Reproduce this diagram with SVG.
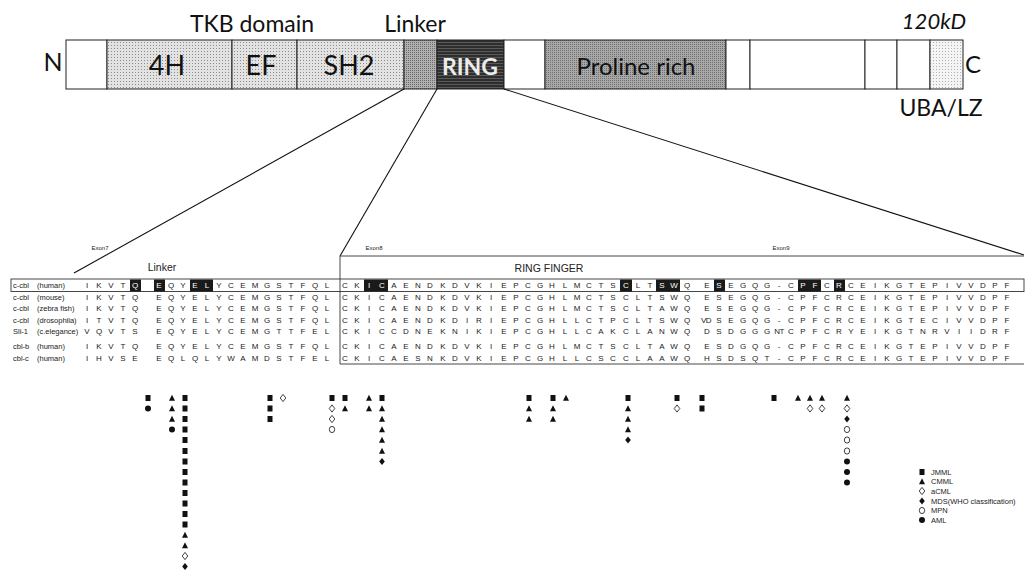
<svg xmlns="http://www.w3.org/2000/svg" xmlns:xlink="http://www.w3.org/1999/xlink" width="1026" height="572" viewBox="0 0 1026 572">
  <style>
    .big { font-family: Lato, "Open Sans", "Liberation Sans", sans-serif; fill: #111; }
    .seg { stroke: #222; stroke-width: 1; }
    .aa { font-family: "Liberation Sans", Arial, sans-serif; font-size: 8px; fill: #222; text-anchor: middle; }
    .lbl { font-family: "Liberation Sans", Arial, sans-serif; font-size: 7.5px; fill: #222; }
    .small { font-family: "Liberation Sans", Arial, sans-serif; fill: #222; }
    .w { fill: #fff; }
    .box { fill: #1a1a1a; }
    .ln { stroke: #111; stroke-width: 1.1; fill: none; }
    .frame { stroke: #333; stroke-width: 0.9; fill: none; }
  </style>
  <defs>
    <pattern id="pLight" width="3" height="3" patternUnits="userSpaceOnUse">
      <rect width="3" height="3" fill="#e2e2e2"/><rect width="1" height="1" fill="#8c8c8c"/>
    </pattern>
    <pattern id="pLinker" width="2" height="2" patternUnits="userSpaceOnUse">
      <rect width="2" height="2" fill="#b0b0b0"/><rect width="1" height="1" fill="#6a6a6a"/>
    </pattern>
    <pattern id="pRing" width="3" height="3" patternUnits="userSpaceOnUse">
      <rect width="3" height="3" fill="#2e2e2e"/><rect width="3" height="1" fill="#5a5a5a"/>
    </pattern>
    <pattern id="pPro" width="2" height="2" patternUnits="userSpaceOnUse">
      <rect width="2" height="2" fill="#a8a8a8"/><rect width="1" height="1" fill="#707070"/>
    </pattern>
    <pattern id="pUba" width="3" height="3" patternUnits="userSpaceOnUse">
      <rect width="3" height="3" fill="#f4f4f4"/><rect width="1" height="1" fill="#b0b0b0"/>
    </pattern>
    <!-- mutation markers, centred on the origin -->
    <rect id="sq" x="-2.5" y="-3" width="5" height="6" fill="#111"/>
    <polygon id="tri" points="0,-3.3 3,2.8 -3,2.8" fill="#111"/>
    <polygon id="od" points="0,-3.6 2.8,0 0,3.6 -2.8,0" fill="#fff" stroke="#111" stroke-width="0.8"/>
    <polygon id="fd" points="0,-3.6 2.8,0 0,3.6 -2.8,0" fill="#111"/>
    <ellipse id="oc" rx="2.7" ry="3.1" fill="#fff" stroke="#111" stroke-width="0.8"/>
    <circle id="fc" r="3" fill="#111"/>
  </defs>

  <rect width="1026" height="572" fill="#fff"/>

  <!-- protein domain bar -->
  <g id="domain-bar">
    <rect class="seg" x="66" y="40" width="41" height="49" fill="#fff"/>
    <rect class="seg" x="107" y="40" width="125" height="49" fill="url(#pLight)"/>
    <rect class="seg" x="232" y="40" width="65" height="49" fill="url(#pLight)"/>
    <rect class="seg" x="297" y="40" width="107" height="49" fill="url(#pLight)"/>
    <rect class="seg" x="404" y="40" width="33" height="49" fill="url(#pLinker)"/>
    <rect class="seg" x="437" y="40" width="67" height="49" fill="url(#pRing)"/>
    <rect class="seg" x="504" y="40" width="41" height="49" fill="#fff"/>
    <rect class="seg" x="545" y="40" width="181" height="49" fill="url(#pPro)"/>
    <rect class="seg" x="726" y="40" width="24" height="49" fill="#fff"/>
    <rect class="seg" x="750" y="40" width="115" height="49" fill="#fff"/>
    <rect class="seg" x="865" y="40" width="32" height="49" fill="#fff"/>
    <rect class="seg" x="897" y="40" width="33" height="49" fill="#fff"/>
    <rect class="seg" x="930" y="40" width="33" height="49" fill="url(#pUba)"/>
    <text class="big" x="167" y="75" font-size="27" text-anchor="middle">4H</text>
    <text class="big" x="261" y="75" font-size="27" text-anchor="middle">EF</text>
    <text class="big" x="349" y="75" font-size="27" text-anchor="middle">SH2</text>
    <text class="big" x="470" y="75" font-size="23" font-weight="bold" text-anchor="middle" fill="#ececec" style="fill:#ececec">RING</text>
    <text class="big" x="636" y="75" font-size="24" text-anchor="middle">Proline rich</text>
  </g>

  <g id="bar-labels">
    <text class="big" x="53" y="71" font-size="25" text-anchor="middle">N</text>
    <text class="big" x="973" y="73" font-size="24" text-anchor="middle">C</text>
    <text class="big" x="252" y="32" font-size="23" text-anchor="middle">TKB domain</text>
    <text class="big" x="415" y="32" font-size="23" text-anchor="middle">Linker</text>
    <text class="big" x="934" y="29" font-size="22" font-style="italic" text-anchor="middle">120kD</text>
    <text class="big" x="941" y="116" font-size="23" text-anchor="middle">UBA/LZ</text>
  </g>

  <!-- zoom lines from the bar down to the alignment -->
  <g id="connectors">
    <line class="ln" x1="404" y1="89" x2="74" y2="273"/>
    <line class="ln" x1="437" y1="89" x2="340" y2="256"/>
    <line class="ln" x1="504" y1="89" x2="1024" y2="255"/>
  </g>

  <!-- alignment frames and headings -->
  <g id="alignment-frame">
    <polyline class="frame" points="1024,256 340,256 340,364 1024,364"/>
    <rect class="frame" x="11" y="279" width="1013" height="12.5"/>
    <text class="small" x="100" y="250" font-size="6" text-anchor="middle">Exon7</text>
    <text class="small" x="374" y="250" font-size="6" text-anchor="middle">Exon8</text>
    <text class="small" x="781" y="250" font-size="6" text-anchor="middle">Exon9</text>
    <text class="small" x="162" y="271" font-size="10.5" text-anchor="middle">Linker</text>
    <text class="small" x="549" y="272" font-size="10.5" text-anchor="middle">RING FINGER</text>
  </g>

  <!-- highlighted residues in the human c-cbl row -->
  <g id="highlights">
    <rect class="box" x="130" y="279.5" width="11" height="12"/>
    <rect class="box" x="154" y="279.5" width="11" height="12"/>
    <rect class="box" x="190" y="279.5" width="23" height="12"/>
    <rect class="box" x="364" y="279.5" width="24" height="12"/>
    <rect class="box" x="620" y="279.5" width="12" height="12"/>
    <rect class="box" x="656" y="279.5" width="24" height="12"/>
    <rect class="box" x="714" y="279.5" width="11" height="12"/>
    <rect class="box" x="798" y="279.5" width="23" height="12"/>
    <rect class="box" x="834" y="279.5" width="11" height="12"/>
  </g>

  <!-- species labels -->
  <g id="species">
    <text class="lbl" x="13" y="288">c-cbl</text><text class="lbl" x="37" y="288">(human)</text>
    <text class="lbl" x="13" y="299.5">c-cbl</text><text class="lbl" x="37" y="299.5">(mouse)</text>
    <text class="lbl" x="13" y="311">c-cbl</text><text class="lbl" x="37" y="311">(zebra fish)</text>
    <text class="lbl" x="13" y="322.5">c-cbl</text><text class="lbl" x="37" y="322.5">(drosophila)</text>
    <text class="lbl" x="13" y="334">Sli-1</text><text class="lbl" x="37" y="334">(c.elegance)</text>
    <text class="lbl" x="13" y="349">cbl-b</text><text class="lbl" x="37" y="349">(human)</text>
    <text class="lbl" x="13" y="360.5">cbl-c</text><text class="lbl" x="37" y="360.5">(human)</text>
  </g>

  <!-- sequence rows -->
  <g id="sequences">
    <text class="aa" y="288" x="87 99 111 123 135 159 171 183 195 207 219 231 243 255 267 279 291 303 315 327 345 357 369 382 394 406 418 430 443 455 467 479 491 504 516 528 540 552 565 577 589 601 613 626 638 650 662 674 687 707 719 731 743 755 767 779 791 803 815 827 839 851 863 875 887 899 911 923 935 947 959 971 983 995 1007">IKVT<tspan class="w">Q</tspan><tspan class="w">E</tspan>QY<tspan class="w">EL</tspan>YCEMGSTFQLCK<tspan class="w">IC</tspan>AENDKDVKIEPCGHLMCTS<tspan class="w">C</tspan>LT<tspan class="w">SW</tspan>QE<tspan class="w">S</tspan>EGQG-C<tspan class="w">PF</tspan>C<tspan class="w">R</tspan>CEIKGTEPIVVDPF</text>
    <text class="aa" y="299.5" x="87 99 111 123 135 159 171 183 195 207 219 231 243 255 267 279 291 303 315 327 345 357 369 382 394 406 418 430 443 455 467 479 491 504 516 528 540 552 565 577 589 601 613 626 638 650 662 674 687 707 719 731 743 755 767 779 791 803 815 827 839 851 863 875 887 899 911 923 935 947 959 971 983 995 1007">IKVTQEQYELYCEMGSTFQLCKICAENDKDVKIEPCGHLMCTSCLTSWQESEGQG-CPFCRCEIKGTEPIVVDPF</text>
    <text class="aa" y="311" x="87 99 111 123 135 159 171 183 195 207 219 231 243 255 267 279 291 303 315 327 345 357 369 382 394 406 418 430 443 455 467 479 491 504 516 528 540 552 565 577 589 601 613 626 638 650 662 674 687 707 719 731 743 755 767 779 791 803 815 827 839 851 863 875 887 899 911 923 935 947 959 971 983 995 1007">IKVTQEQYELYCEMGSTFQLCKICAENDKDVKIEPCGHLMCTSCLTAWQESEGQG-CPFCRCEIKGTEPIVVDPF</text>
    <text class="aa" y="322.5" x="87 99 111 123 135 159 171 183 195 207 219 231 243 255 267 279 291 303 315 327 345 357 369 382 394 406 418 430 443 455 467 479 491 504 516 528 540 552 565 577 589 601 613 626 638 650 662 674 687">ITVTQEQYELYCEMGSTFQLCKICAENDKDIRIEPCGHLLCTPCLTSWQ</text>
    <text class="aa" y="322.5" x="706" font-size="7" letter-spacing="-0.6">VD</text>
    <text class="aa" y="322.5" x="719 731 743 755 767 779 791 803 815 827 839 851 863 875 887 899 911 923 935 947 959 971 983 995 1007">SEGQG-CPFCRCEIKGTECIVVDPF</text>
    <text class="aa" y="334" x="87 99 111 123 135 159 171 183 195 207 219 231 243 255 267 279 291 303 315 327 345 357 369 382 394 406 418 430 443 455 467 479 491 504 516 528 540 552 565 577 589 601 613 626 638 650 662 674 687 707 719 731 743 755 767">VQVTSEQYELYCEMGTTFELCKICCDNEKNIKIEPCGHLLCAKCLANWQDSDGGG</text>
    <text class="aa" y="334" x="779" font-size="7" letter-spacing="-0.6">NT</text>
    <text class="aa" y="334" x="791 803 815 827 839 851 863 875 887 899 911 923 935 947 959 971 983 995 1007">CPFCRYEIKGTNRVIIDRF</text>
    <text class="aa" y="349" x="87 99 111 123 135 159 171 183 195 207 219 231 243 255 267 279 291 303 315 327 345 357 369 382 394 406 418 430 443 455 467 479 491 504 516 528 540 552 565 577 589 601 613 626 638 650 662 674 687 707 719 731 743 755 767 779 791 803 815 827 839 851 863 875 887 899 911 923 935 947 959 971 983 995 1007">IKVTQEQYELYCEMGSTFQLCKICAENDKDVKIEPCGHLMCTSCLTAWQESDGQG-CPFCRCEIKGTEPIVVDPF</text>
    <text class="aa" y="360.5" x="87 99 111 123 135 159 171 183 195 207 219 231 243 255 267 279 291 303 315 327 345 357 369 382 394 406 418 430 443 455 467 479 491 504 516 528 540 552 565 577 589 601 613 626 638 650 662 674 687 707 719 731 743 755 767 779 791 803 815 827 839 851 863 875 887 899 911 923 935 947 959 971 983 995 1007">IHVSEEQLQLYWAMDSTFELCKICAESNKDVKIEPCGHLLCSCCLAAWQHSDSQT-CPFCRCEIKGTEPIVVDPF</text>
  </g>

  <!-- mutation markers under the residues -->
  <g id="mutations">
    <use href="#sq" x="148" y="398"/><use href="#fc" x="148" y="408.5"/>

    <use href="#tri" x="172" y="398"/><use href="#tri" x="172" y="408.5"/><use href="#tri" x="172" y="419"/><use href="#fc" x="172" y="429.5"/>

    <use href="#sq" x="185" y="398"/><use href="#sq" x="185" y="408.5"/><use href="#sq" x="185" y="419"/><use href="#sq" x="185" y="429.5"/>
    <use href="#sq" x="185" y="440"/><use href="#sq" x="185" y="451"/><use href="#sq" x="185" y="461.5"/><use href="#sq" x="185" y="472"/>
    <use href="#sq" x="185" y="482.5"/><use href="#sq" x="185" y="493"/><use href="#sq" x="185" y="503.5"/><use href="#sq" x="185" y="514"/>
    <use href="#sq" x="185" y="524.5"/><use href="#tri" x="185" y="535"/><use href="#tri" x="185" y="545.5"/><use href="#od" x="185" y="556"/>
    <use href="#fd" x="185" y="566.5"/>

    <use href="#sq" x="270" y="398"/><use href="#sq" x="270" y="408.5"/><use href="#sq" x="270" y="419"/>
    <use href="#od" x="283" y="398"/>

    <use href="#sq" x="332" y="398"/><use href="#od" x="332" y="408.5"/><use href="#od" x="332" y="419"/><use href="#oc" x="332" y="429.5"/>
    <use href="#sq" x="345" y="398"/><use href="#tri" x="345" y="408.5"/>
    <use href="#tri" x="369" y="398"/><use href="#tri" x="369" y="408.5"/>
    <use href="#sq" x="382" y="398"/><use href="#tri" x="382" y="408.5"/><use href="#tri" x="382" y="419"/><use href="#tri" x="382" y="429.5"/>
    <use href="#tri" x="382" y="440"/><use href="#tri" x="382" y="451"/><use href="#fd" x="382" y="461.5"/>

    <use href="#sq" x="529" y="398"/><use href="#tri" x="529" y="408.5"/><use href="#tri" x="529" y="419"/>
    <use href="#sq" x="553" y="398"/><use href="#tri" x="553" y="408.5"/><use href="#tri" x="553" y="419"/>
    <use href="#tri" x="566" y="398"/>

    <use href="#sq" x="628" y="398"/><use href="#tri" x="628" y="408.5"/><use href="#tri" x="628" y="419"/><use href="#tri" x="628" y="429.5"/><use href="#fd" x="628" y="440"/>

    <use href="#sq" x="677" y="398"/><use href="#od" x="677" y="408.5"/>
    <use href="#sq" x="702" y="398"/><use href="#sq" x="702" y="408.5"/>

    <use href="#sq" x="774" y="398"/>
    <use href="#tri" x="798" y="398"/>
    <use href="#tri" x="810" y="398"/><use href="#od" x="810" y="408.5"/>
    <use href="#tri" x="822" y="398"/><use href="#od" x="822" y="408.5"/>

    <use href="#tri" x="847" y="398"/><use href="#od" x="847" y="408.5"/><use href="#fd" x="847" y="419"/><use href="#oc" x="847" y="429.5"/>
    <use href="#oc" x="847" y="440"/><use href="#oc" x="847" y="451"/><use href="#fc" x="847" y="461.5"/><use href="#fc" x="847" y="472"/>
    <use href="#fc" x="847" y="482.5"/>
  </g>

  <!-- legend -->
  <g id="legend">
    <use href="#sq" x="922" y="472"/><text class="lbl" x="931" y="474.5">JMML</text>
    <use href="#tri" x="922" y="481.5"/><text class="lbl" x="931" y="484">CMML</text>
    <use href="#od" x="922" y="491"/><text class="lbl" x="931" y="493.5">aCML</text>
    <use href="#fd" x="922" y="501"/><text class="lbl" x="931" y="503.5">MDS(WHO classification)</text>
    <use href="#oc" x="922" y="510.5"/><text class="lbl" x="931" y="513">MPN</text>
    <use href="#fc" x="922" y="520"/><text class="lbl" x="931" y="522.5">AML</text>
  </g>
</svg>
